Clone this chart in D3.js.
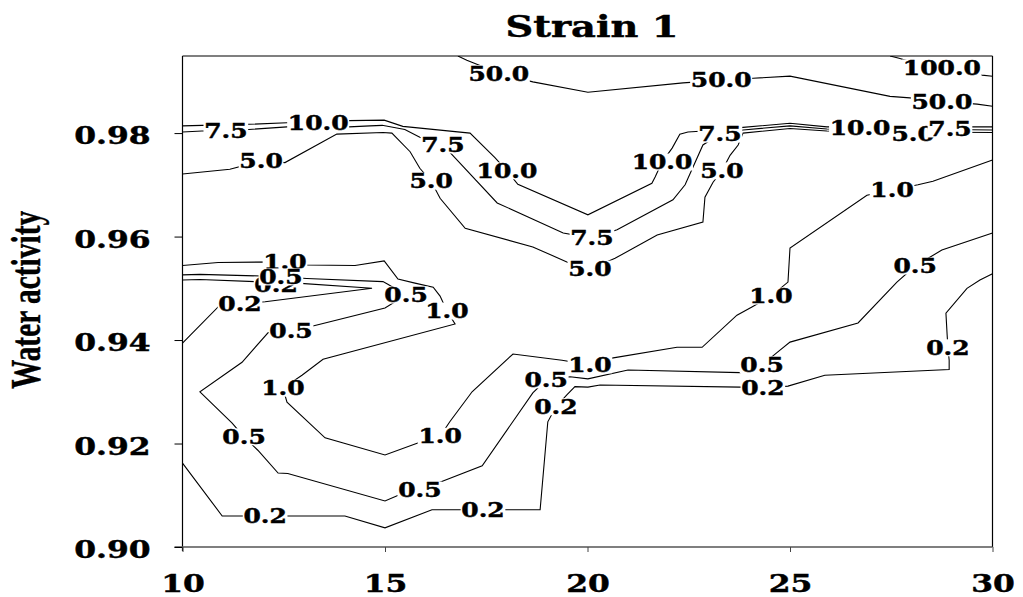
<!DOCTYPE html>
<html>
<head>
<meta charset="utf-8">
<script src="https://cdn.jsdelivr.net/npm/d3@7"></script>
<style>
  body { margin: 0; background: #fff; }
  .lbl { font-family: "DejaVu Serif", serif; font-weight: bold; stroke: #000; stroke-width: 0.45; }
</style>
</head>
<body>
<div id="chart"></div>
<script>
// tick values
var xTicks = [10, 15, 20, 25, 30];
var yTicks = [0.90, 0.92, 0.94, 0.96, 0.98];

// contour lines, [temperature, water activity]
var line100 = [[27.47,0.9949],[27.67,0.9945],[28.70,0.9922],[29.74,0.9912],[30.0,0.9910]];
var lab100 = [[28.75,0.9926]];

var line50 = [[16.80,0.9949],[17.02,0.9941],[17.81,0.9916],[18.65,0.9899],[20.01,0.9879],[22.36,0.9897],[23.30,0.9902],[24.09,0.9906],[25.00,0.9910],[27.47,0.9871],[27.96,0.9868],[28.75,0.9861],[29.62,0.9856],[30.0,0.9852]];
var lab50 = [[17.81,0.9915],[23.30,0.9902],[28.75,0.9861]];

var line10 = [[10.0,0.9814],[10.48,0.9815],[11.64,0.9817],[12.58,0.9820],[13.35,0.9821],[14.11,0.9824],[14.98,0.9825],[15.44,0.9813],[17.10,0.9800],[17.72,0.9752],[18.01,0.9727],[18.28,0.9701],[20.01,0.9642],[21.59,0.9703],[21.67,0.9715],[21.84,0.9744],[22.09,0.9771],[22.28,0.9798],[22.48,0.9802],[23.27,0.9806],[23.84,0.9811],[25.0,0.9819],[25.91,0.9812],[26.73,0.9812],[30.0,0.9812]];
var lab10 = [[13.35,0.9820],[18.01,0.9727],[21.84,0.9744],[26.73,0.9810]];

var line75 = [[10.0,0.9802],[10.48,0.9804],[11.07,0.9804],[11.64,0.9807],[12.58,0.9812],[14.11,0.9812],[14.63,0.9814],[14.93,0.9815],[15.49,0.9807],[15.86,0.9792],[16.43,0.9777],[16.73,0.9752],[17.77,0.9665],[19.40,0.9607],[20.11,0.9597],[20.73,0.9613],[22.11,0.9671],[22.41,0.9700],[22.85,0.9777],[23.27,0.9798],[23.84,0.9806],[25.0,0.9814],[25.91,0.9808],[28.95,0.9807],[30.0,0.9806]];
var lab75 = [[11.07,0.9804],[16.43,0.9777],[20.11,0.9597],[23.27,0.9798],[28.95,0.9808]];

var line5 = [[10.0,0.9721],[11.17,0.9730],[11.94,0.9746],[12.53,0.9743],[13.81,0.9798],[14.95,0.9801],[15.17,0.9800],[15.62,0.9764],[15.86,0.9732],[16.14,0.9707],[16.36,0.9674],[16.98,0.9616],[18.65,0.9580],[19.49,0.9551],[20.06,0.9537],[20.68,0.9558],[21.72,0.9603],[22.85,0.9628],[22.90,0.9676],[23.10,0.9705],[23.32,0.9727],[23.52,0.9757],[23.72,0.9777],[23.84,0.9800],[25.0,0.9809],[25.91,0.9804],[28.04,0.9802],[30.0,0.9801]];
var lab5 = [[11.94,0.9746],[16.14,0.9707],[20.06,0.9537],[23.32,0.9727],[28.04,0.9799]];

var line1 = [[10.0,0.9544],[10.88,0.9550],[12.53,0.9551],[13.07,0.9545],[14.26,0.9544],[14.98,0.9553],[15.32,0.9518],[15.74,0.9510],[16.19,0.9502],[16.36,0.9485],[16.53,0.9456],[16.73,0.9431],[13.47,0.9363],[12.95,0.9332],[12.48,0.9307],[12.58,0.9280],[13.52,0.9211],[15.00,0.9178],[15.81,0.9201],[16.36,0.9214],[16.60,0.9242],[17.15,0.9300],[18.16,0.9373],[19.37,0.9361],[20.06,0.9352],[20.60,0.9365],[22.21,0.9386],[22.83,0.9386],[23.69,0.9448],[24.06,0.9464],[24.53,0.9485],[24.95,0.9512],[25.0,0.9578],[26.90,0.9680],[27.52,0.9690],[28.16,0.9700],[28.53,0.9707],[30.0,0.9748]];
var lab1 = [[12.53,0.9551],[16.53,0.9456],[12.48,0.9307],[16.36,0.9214],[20.06,0.9352],[24.53,0.9485],[27.52,0.9690]];

var line05 = [[10.0,0.9526],[10.43,0.9527],[11.79,0.9524],[12.43,0.9522],[13.07,0.9519],[14.95,0.9513],[15.07,0.9508],[15.52,0.9487],[15.00,0.9462],[13.32,0.9429],[12.68,0.9417],[12.11,0.9414],[11.47,0.9357],[10.43,0.9300],[11.22,0.9240],[11.52,0.9213],[11.86,0.9187],[12.36,0.9143],[12.60,0.9142],[15.00,0.9089],[15.30,0.9099],[15.86,0.9110],[16.48,0.9129],[17.40,0.9157],[18.65,0.9298],[18.98,0.9323],[19.57,0.9329],[20.01,0.9325],[21.00,0.9342],[23.77,0.9337],[24.31,0.9352],[24.70,0.9377],[25.0,0.9396],[26.68,0.9433],[27.64,0.9512],[28.09,0.9543],[28.75,0.9574],[30.0,0.9607]];
var lab05 = [[12.43,0.9522],[15.52,0.9487],[12.68,0.9417],[11.52,0.9213],[15.86,0.9110],[18.98,0.9323],[24.31,0.9352],[28.09,0.9543]];

var line02a = [[10.0,0.9516],[10.43,0.9517],[11.79,0.9513],[12.31,0.9506],[12.83,0.9510],[14.68,0.9500],[12.04,0.9474],[11.42,0.9470],[10.88,0.9464],[10.0,0.9394]];
var lab02a = [[12.31,0.9506],[11.42,0.9470]];

var line02b = [[10.0,0.9162],[10.98,0.9060],[11.49,0.9060],[12.04,0.9060],[14.01,0.9060],[15.00,0.9037],[16.16,0.9072],[17.42,0.9072],[18.83,0.9072],[19.02,0.9242],[19.22,0.9271],[19.49,0.9294],[19.69,0.9310],[20.01,0.9309],[20.31,0.9313],[23.77,0.9309],[24.33,0.9307],[24.95,0.9311],[25.86,0.9332],[28.93,0.9343],[28.93,0.9361],[28.90,0.9385],[28.88,0.9410],[28.85,0.9452],[29.37,0.9500],[29.69,0.9516],[30.0,0.9528]];
var lab02b = [[12.04,0.9060],[17.42,0.9072],[19.22,0.9271],[24.33,0.9307],[28.90,0.9385]];

// label draw order matters where boxes overlap
var contours = [
  {level: "100.0", pts: line100, labels: lab100},
  {level: "50.0", pts: line50, labels: lab50},
  {level: "10.0", pts: line10, labels: lab10},
  {level: "5.0", pts: line5, labels: lab5},
  {level: "7.5", pts: line75, labels: lab75},
  {level: "1.0", pts: line1, labels: lab1},
  {level: "0.2", pts: line02a, labels: lab02a},
  {level: "0.5", pts: line05, labels: lab05},
  {level: "0.2", pts: line02b, labels: lab02b}
];

var svgWidth = 1023;
var svgHeight = 597;
var margin = {top: 56, right: 30.5, bottom: 50, left: 182.5};
var stretch = 1.28;

var svg = d3.select("#chart").append("svg")
  .attr("width", svgWidth)
  .attr("height", svgHeight);

var x = d3.scaleLinear().domain([10, 30]).range([margin.left, svgWidth - margin.right]);
var y = d3.scaleLinear().domain([0.90, 0.9949]).range([svgHeight - margin.bottom, margin.top]);

svg.append("clipPath").attr("id", "plot")
  .append("rect")
  .attr("x", x(10)).attr("y", y(0.9949))
  .attr("width", x(30) - x(10)).attr("height", y(0.90) - y(0.9949));

// contour lines
var line = d3.line().x(d => x(d[0])).y(d => y(d[1]));
var lineGroup = svg.append("g").attr("clip-path", "url(#plot)");
lineGroup.selectAll("path")
  .data(contours)
  .enter()
  .append("path")
  .attr("d", d => line(d.pts))
  .attr("fill", "none")
  .attr("stroke", "#000")
  .attr("stroke-width", 1.1);

// labels with white boxes
var labelGroup = svg.append("g");
contours.forEach(function(c) {
  c.labels.forEach(function(p) {
    var g = labelGroup.append("g")
      .attr("transform", `translate(${x(p[0])},${y(p[1])}) scale(${stretch},1)`);
    var box = g.append("rect").attr("fill", "#fff");
    var t = g.append("text")
      .attr("class", "lbl")
      .attr("font-size", 19.5)
      .attr("text-anchor", "middle")
      .attr("dy", "0.36em")
      .text(c.level);
    var bb = t.node().getBBox();
    box.attr("x", bb.x - 0.5).attr("width", bb.width + 1)
      .attr("y", -8.5).attr("height", 17);
  });
});

// frame
svg.append("line").attr("x1", x(10)).attr("x2", x(10)).attr("y1", y(0.9949)).attr("y2", y(0.90) + 4)
  .attr("stroke", "#000").attr("stroke-width", 1.2);
svg.append("line").attr("x1", x(10)).attr("x2", x(30)).attr("y1", y(0.9949)).attr("y2", y(0.9949))
  .attr("stroke", "#000").attr("stroke-width", 1.2);
svg.append("line").attr("x1", x(30)).attr("x2", x(30)).attr("y1", y(0.9949)).attr("y2", y(0.90))
  .attr("stroke", "#000").attr("stroke-width", 1.2);
svg.append("line").attr("x1", x(10) - 8).attr("x2", x(30)).attr("y1", y(0.90)).attr("y2", y(0.90))
  .attr("stroke", "#555").attr("stroke-width", 1.5);

// y axis
var yAxis = d3.axisLeft(y).tickValues(yTicks).tickSize(8).tickFormat(d3.format(".2f"));
var gy = svg.append("g")
  .attr("transform", `translate(${margin.left},0)`)
  .call(yAxis);
gy.select(".domain").remove();
gy.selectAll("line").attr("stroke", "#000");
gy.selectAll("text")
  .attr("class", "lbl")
  .attr("font-size", 24.5)
  .attr("x", null)
  .attr("dy", "0.36em")
  .attr("text-anchor", "end")
  .attr("transform", `translate(-32,2) scale(${stretch},1)`);

// x axis
var xAxis = d3.axisBottom(x).tickValues(xTicks).tickSize(5).tickFormat(d3.format("d"));
var gx = svg.append("g")
  .attr("transform", `translate(0,${svgHeight - margin.bottom})`)
  .call(xAxis);
gx.select(".domain").remove();
gx.selectAll("line").attr("stroke", "#444");
gx.selectAll("text")
  .attr("class", "lbl")
  .attr("font-size", 24.5)
  .attr("y", null)
  .attr("dy", null)
  .attr("transform", `translate(0,45) scale(${stretch},1)`);

// title
svg.append("text")
  .attr("class", "lbl")
  .attr("font-size", 30)
  .attr("text-anchor", "middle")
  .attr("transform", `translate(592,37) scale(${stretch},1)`)
  .text("Strain 1");

// y axis title
svg.append("text")
  .attr("font-family", "Liberation Serif, serif")
  .attr("font-weight", "bold")
  .attr("font-size", 42)
  .attr("stroke", "#000")
  .attr("stroke-width", 0.4)
  .attr("text-anchor", "middle")
  .attr("transform", "translate(40,300) rotate(-90) scale(0.7,1)")
  .text("Water activity");
</script>
</body>
</html>
